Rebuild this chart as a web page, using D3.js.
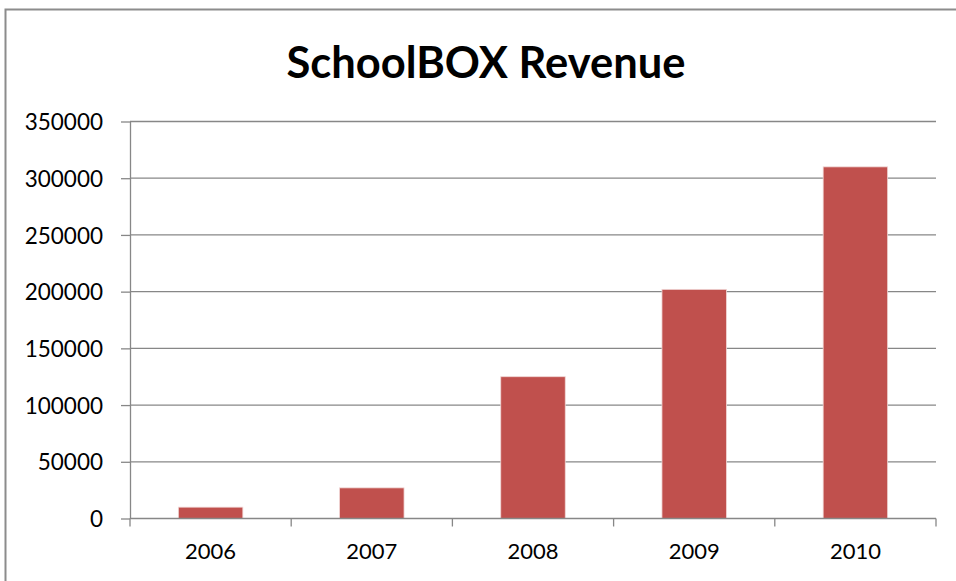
<!DOCTYPE html>
<html>
<head>
<meta charset="utf-8">
<script src="https://cdn.jsdelivr.net/npm/d3@7"></script>
<style>
	body { margin: 0; background: #fff; }
	svg { display: block; }
	.axis path, .axis line { stroke: #878787; }
</style>
</head>
<body>
<svg id="chart"></svg>
<script>
const title = 'SchoolBOX Revenue'
const years = ['2006', '2007', '2008', '2009', '2010']
const revenue = [10000, 27000, 125000, 202000, 310000]
const yTicks = [0, 50000, 100000, 150000, 200000, 250000, 300000, 350000]

const width = 956
const height = 581
const plot = { left: 130, right: 936, top: 121.5, bottom: 518.5 }
const font = 'Lato, "Open Sans", sans-serif'

const $svg = d3.select('#chart')
	.attr('width', width)
	.attr('height', height)

const scaleX = d3.scaleBand()
	.domain(years)
	.range([plot.left, plot.right])
	.paddingInner(0.6)
	.paddingOuter(0.3)

const scaleY = d3.scaleLinear()
	.domain([0, 350000])
	.range([plot.bottom, plot.top])

// outer chart border (right/bottom edges run off the picture)
$svg.append('rect')
	.attr('x', 5.5)
	.attr('y', 9.5)
	.attr('width', width + 20)
	.attr('height', height + 20)
	.attr('fill', 'none')
	.attr('stroke', '#8c8c8c')
	.attr('stroke-width', 2)

$svg.append('text')
	.attr('x', 486)
	.attr('y', 78)
	.attr('text-anchor', 'middle')
	.attr('font-family', font)
	.attr('font-size', 43.5)
	.attr('font-weight', 'bold')
	.text(title)

// gridlines
$svg.append('g')
	.selectAll('line')
	.data(yTicks.filter(d => d > 0))
	.join('line')
	.attr('x1', plot.left)
	.attr('x2', plot.right)
	.attr('y1', d => scaleY(d))
	.attr('y2', d => scaleY(d))
	.attr('stroke', '#878787')
	.attr('stroke-width', 1.3)

// bars
$svg.append('g')
	.selectAll('rect')
	.data(years.map((y, i) => ({ year: y, value: revenue[i] })))
	.join('rect')
	.attr('x', d => scaleX(d.year))
	.attr('width', scaleX.bandwidth())
	.attr('y', d => scaleY(d.value))
	.attr('height', d => scaleY(0) - scaleY(d.value))
	.attr('fill', '#c0504d')
	.attr('stroke', '#f0d6d5')
	.attr('stroke-width', 0.8)

// y axis
const $yAxis = $svg.append('g')
	.attr('class', 'axis')
	.attr('transform', `translate(${plot.left},0)`)
	.call(d3.axisLeft(scaleY)
		.tickValues(yTicks)
		.tickFormat(d3.format('d'))
		.tickSize(9)
		.tickPadding(18)
		.tickSizeOuter(0))
$yAxis.selectAll('path, line').attr('stroke-width', 1.3)
$yAxis.selectAll('text')
	.attr('dy', '0.36em')
	.attr('fill', '#000')
	.attr('font-family', font)
	.attr('font-size', 22.5)

// x axis: line plus boundary ticks
const $xAxis = $svg.append('g').attr('class', 'axis')
$xAxis.append('line')
	.attr('x1', plot.left)
	.attr('x2', plot.right)
	.attr('y1', scaleY(0))
	.attr('y2', scaleY(0))
	.attr('stroke-width', 1.3)

const step = scaleX.step()
const bounds = d3.range(years.length + 1).map(i => plot.left + i * step)
$xAxis.selectAll('line.tick')
	.data(bounds)
	.join('line')
	.attr('class', 'tick')
	.attr('x1', d => d)
	.attr('x2', d => d)
	.attr('y1', scaleY(0))
	.attr('y2', scaleY(0) + 8)
	.attr('stroke-width', 1.3)

$xAxis.selectAll('text')
	.data(years)
	.join('text')
	.attr('x', d => scaleX(d) + scaleX.bandwidth() / 2)
	.attr('y', 559)
	.attr('text-anchor', 'middle')
	.attr('font-family', font)
	.attr('font-size', 22)
	.text(d => d)
</script>
</body>
</html>
